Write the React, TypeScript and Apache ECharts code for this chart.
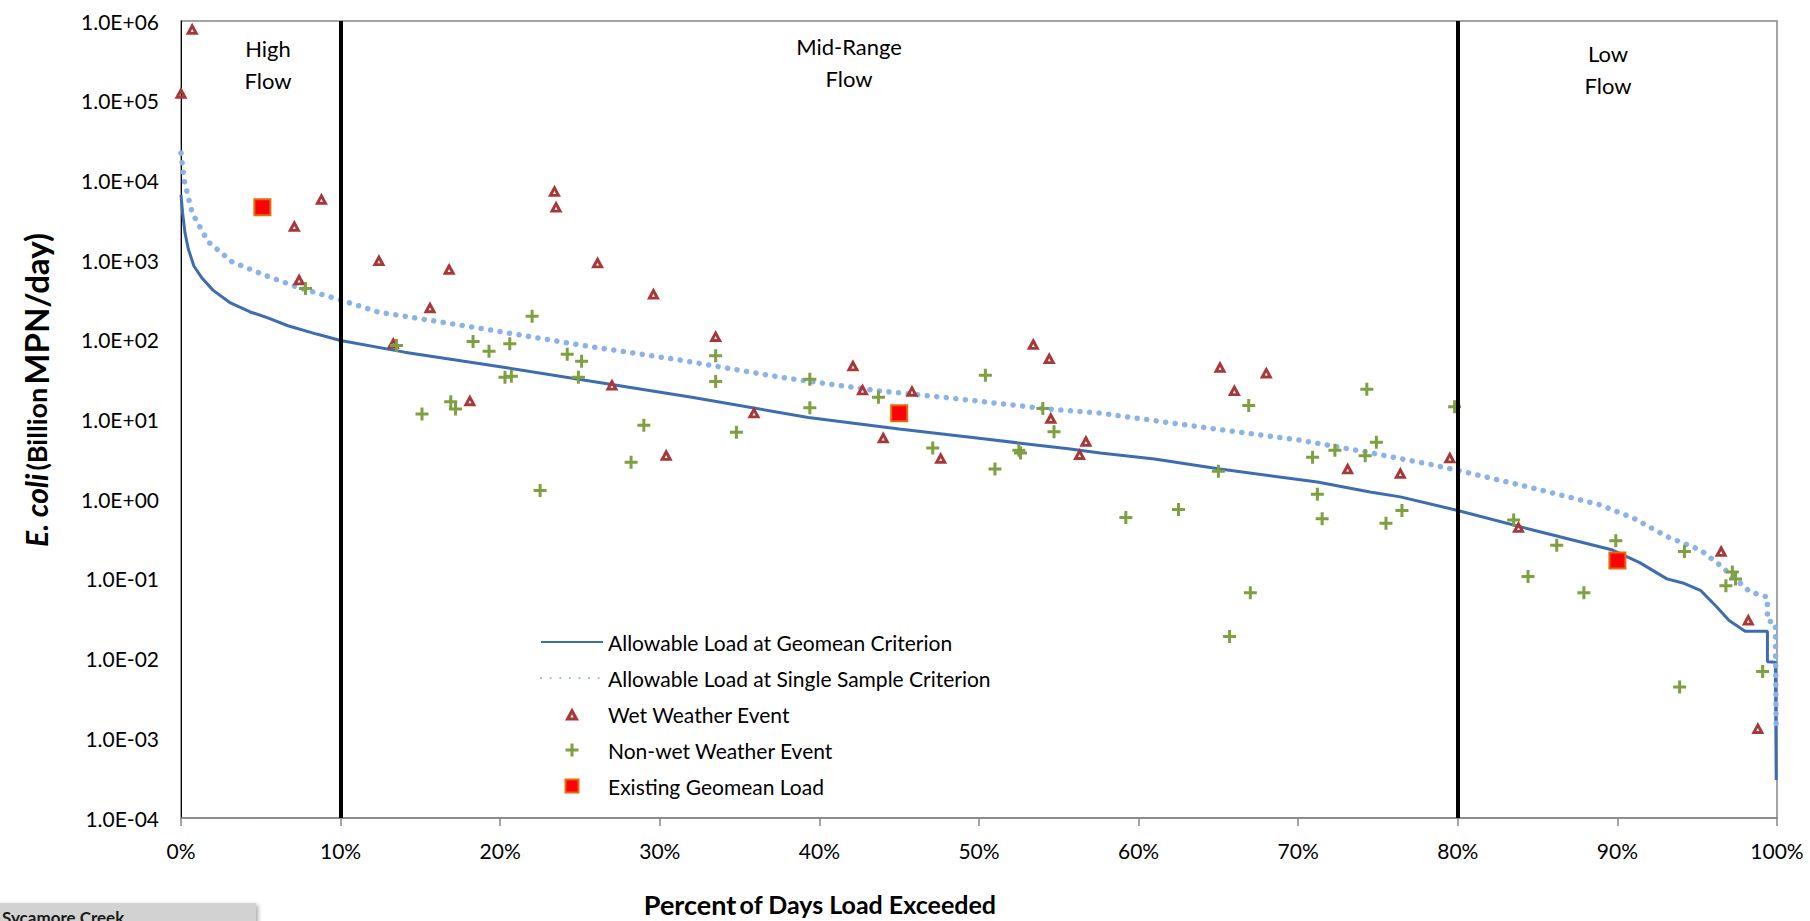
import React, { useEffect, useRef } from "react";
import * as echarts from "echarts";

// ---- Data (percent of days load exceeded, E. coli load in billion MPN/day) ----
const geomeanCurve: [number, number][] = [
  [0, 6600], [0.1, 3900], [0.25, 2200], [0.45, 1400], [0.8, 850], [1.3, 600], [2.0, 420],
  [3.1, 290], [4.3, 225], [5.4, 190], [6.7, 150], [8.5, 118], [10, 98], [14, 70], [20, 46],
  [26.3, 29], [32, 19], [39.3, 10.6], [45, 7.6], [50, 5.8], [55.6, 4.3], [57.6, 3.8], [61, 3.2],
  [65.1, 2.4], [71.2, 1.64], [74.5, 1.23], [76.4, 1.07], [80, 0.72], [84.7, 0.41], [89.7, 0.23],
  [91.4, 0.16], [93.1, 0.1], [94.1, 0.089], [95.2, 0.072], [96.2, 0.045], [97, 0.03], [98, 0.022],
  [99.4, 0.022], [99.4, 0.0091], [99.9, 0.009], [99.95, 0.0003],
];

const singleSampleCurve: [number, number][] = [
  [0, 22000], [0.2, 10000], [0.7, 3900], [1.7, 1700], [3.2, 950], [5.3, 640], [7.4, 450],
  [10, 316], [12.4, 222], [18.7, 140], [25, 86], [31.2, 56], [37.5, 34], [43.6, 23],
  [48.2, 18.6], [54.4, 13.5], [57.6, 12], [63.8, 8.1], [70.1, 5.5], [74.3, 3.9], [78.4, 2.7],
  [80, 2.3], [84.7, 1.38], [88.9, 0.85], [91, 0.58], [93.1, 0.34], [95.2, 0.23], [96.4, 0.15],
  [98.3, 0.069], [99.4, 0.059], [99.4, 0.03], [99.9, 0.028], [99.95, 0.0012],
];

const wetEvents: [number, number][] = [
  [0, 126000], [0.7, 800000], [5.0, 4400], [7.1, 2700], [7.4, 575], [8.8, 5900], [12.4, 1000],
  [13.3, 92], [15.6, 257], [16.8, 780], [18.1, 17.5], [23.4, 7400], [23.5, 4700], [26.1, 940],
  [27, 27.5], [29.6, 380], [30.4, 3.6], [33.5, 112], [35.9, 12.3], [42.1, 48], [42.7, 24],
  [44, 6], [45.8, 23], [47.6, 3.3], [53.4, 89], [54.4, 59], [54.5, 10.5], [56.3, 3.7],
  [56.7, 5.4], [65.1, 46], [66, 23.5], [68, 39], [73.1, 2.45], [76.4, 2.15], [79.5, 3.35],
  [83.8, 0.45], [96.5, 0.225], [98.2, 0.031], [98.8, 0.00135],
];

const nonWetEvents: [number, number][] = [
  [7.8, 440], [13.5, 85], [15.1, 11.7], [16.9, 16.7], [17.2, 13.5], [18.3, 95], [19.3, 72],
  [20.6, 89], [20.3, 34], [20.7, 35], [22, 198], [22.5, 1.29], [24.2, 66], [25.1, 54],
  [24.9, 34], [28.2, 2.9], [29, 8.5], [33.5, 63], [33.5, 30], [34.8, 6.9], [39.4, 32],
  [39.4, 14], [43.7, 19], [47.1, 4.4], [50.4, 36], [51, 2.4], [52.5, 4.1], [52.6, 3.8],
  [54, 13.7], [54.7, 7], [59.2, 0.59], [62.5, 0.74], [65, 2.25], [65.7, 0.019], [66.9, 15],
  [67, 0.067], [70.9, 3.35], [71.2, 1.15], [71.5, 0.57], [72.3, 4.1], [74.2, 3.5], [74.3, 24],
  [74.9, 5.2], [75.5, 0.5], [76.5, 0.72], [79.8, 14.5], [83.5, 0.55], [84.4, 0.107],
  [86.2, 0.265], [87.9, 0.067], [89.9, 0.3], [93.9, 0.0044], [94.2, 0.22], [96.8, 0.082],
  [97.2, 0.122], [97.4, 0.1], [99.1, 0.0069],
];

const existingGeomean: [number, number][] = [
  [5.1, 4600], [45, 12], [90, 0.17],
];

const flowBreaks = [10, 80];
const seriesNames = [
  "Allowable Load at Geomean Criterion",
  "Allowable Load at Single Sample Criterion",
  "Wet Weather Event",
  "Non-wet Weather Event",
  "Existing Geomean Load",
];

const FONT = "Lato, 'Open Sans', sans-serif";
const PLUS = "path://M5,0h3v5h5v3h-5v5h-3v-5h-5v-3h5z";
const TRI = "path://M6.5,0L13,12L0,12Z M6.5,6.2L5,9.2L8,9.2Z";
const SQUARE = "path://M0,0H10V10H0Z";

const fmtY = (v: number) => {
  const e = Math.round(Math.log10(v));
  const s = e < 0 ? "-" : "+";
  return `1.0E${s}${String(Math.abs(e)).padStart(2, "0")}`;
};

export default function App() {
  const ref = useRef<HTMLDivElement>(null);
  useEffect(() => {
    document.body.style.margin = "0";
    const chart = echarts.init(ref.current!, null, { renderer: "svg" });
    const option: any = {
      animation: false,
      backgroundColor: "#ffffff",
      textStyle: { fontFamily: FONT },
      grid: {
        left: 181, right: 33, top: 21, bottom: 103,
        show: true, borderColor: "#868686", borderWidth: 1.5, containLabel: false,
      },
      legend: {
        orient: "vertical",
        left: 535,
        top: 626,
        itemWidth: 62,
        itemHeight: 13,
        itemGap: 14,
        symbolKeepAspect: true,
        data: [
          { name: seriesNames[0], itemStyle: { opacity: 0 } },
          { name: seriesNames[1], itemStyle: { opacity: 0 } },
          { name: seriesNames[2] },
          { name: seriesNames[3] },
          { name: seriesNames[4] },
        ],
        textStyle: { fontFamily: FONT, fontSize: 21, color: "#000", lineHeight: 22 },
      },
      xAxis: {
        type: "value",
        min: 0,
        max: 100,
        interval: 10,
        axisLine: { show: true, lineStyle: { color: "#868686", width: 1.5 } },
        axisTick: { show: true, length: 8, lineStyle: { color: "#868686", width: 1.5 } },
        axisLabel: { margin: 22, fontSize: 21, color: "#000", fontFamily: FONT, formatter: "{value}%" },
        splitLine: { show: false },
      },
      yAxis: {
        type: "log",
        logBase: 10,
        min: 1e-4,
        max: 1e6,
        interval: 1,
        splitNumber: 10,
        axisLine: { show: true, lineStyle: { color: "#000", width: 1 } },
        axisTick: { show: false },
        axisLabel: { margin: 22, fontSize: 21, color: "#000", fontFamily: FONT, formatter: fmtY },
        splitLine: { show: false },
        minorTick: { show: false },
      },
      series: [
        {
          name: seriesNames[0],
          type: "line",
          data: geomeanCurve,
          symbol: "none",
          lineStyle: { color: "#3D6DB0", width: 3 },
          itemStyle: { color: "#3D6DB0" },
          z: 2,
        },
        {
          name: seriesNames[1],
          type: "line",
          data: singleSampleCurve,
          symbol: "none",
          lineStyle: { color: "#8CB3E6", width: 5.5, type: [0.1, 9.5], cap: "round" },
          itemStyle: { color: "#8CB3E6" },
          z: 2,
        },
        {
          name: "flowBreaks",
          type: "line",
          data: [],
          z: 3,
          markLine: {
            silent: true,
            symbol: ["none", "none"],
            label: { show: false },
            lineStyle: { color: "#000", width: 4, type: "solid" },
            data: flowBreaks.map((v) => ({ xAxis: v })),
          },
        },
        {
          name: seriesNames[2],
          type: "scatter",
          data: wetEvents,
          symbol: TRI,
          symbolSize: 13,
          symbolKeepAspect: true,
          itemStyle: { color: "#A83838", opacity: 1 },
          z: 4,
        },
        {
          name: seriesNames[3],
          type: "scatter",
          data: nonWetEvents,
          symbol: PLUS,
          symbolSize: 13,
          symbolKeepAspect: true,
          itemStyle: { color: "#7FA040", opacity: 1 },
          z: 4,
        },
        {
          name: seriesNames[4],
          type: "scatter",
          data: existingGeomean,
          symbol: SQUARE,
          symbolSize: 16,
          symbolKeepAspect: true,
          itemStyle: { color: "#FF0000", borderColor: "#E46C0A", borderWidth: 2, opacity: 1 },
          z: 5,
        },
      ],
      graphic: [
        {
          type: "text", x: 268, y: 32, z: 10,
          style: { text: "High\nFlow", fontFamily: FONT, fontSize: 22, fill: "#000", lineHeight: 32, align: "center" },
        },
        {
          type: "text", x: 849, y: 30, z: 10,
          style: { text: "Mid-Range\nFlow", fontFamily: FONT, fontSize: 22, fill: "#000", lineHeight: 32, align: "center" },
        },
        {
          type: "text", x: 1608, y: 37, z: 10,
          style: { text: "Low\nFlow", fontFamily: FONT, fontSize: 22, fill: "#000", lineHeight: 32, align: "center" },
        },
        {
          type: "text", x: 820, y: 904, z: 10,
          style: {
            text: "{a|Percent} {b|of Days Load Exceeded}",
            align: "center", verticalAlign: "middle", fontFamily: FONT,
            rich: {
              a: { fontFamily: FONT, fontSize: 27, lineHeight: 28, fontWeight: "bold", fill: "#000" },
              b: { fontFamily: FONT, fontSize: 25, lineHeight: 28, fontWeight: "bold", fill: "#000" },
            },
          },
        },
        {
          type: "text", x: 36, y: 390, rotation: Math.PI / 2, z: 10,
          style: {
            text: "{a|E. coli} {b|(Billion} {c|MPN/day)}",
            align: "center", verticalAlign: "middle", fontFamily: FONT,
            rich: {
              a: { fontFamily: FONT, fontSize: 30, fontWeight: "bold", fontStyle: "italic", fill: "#000" },
              b: { fontFamily: FONT, fontSize: 27, fontWeight: "bold", fill: "#000" },
              c: { fontFamily: FONT, fontSize: 33, fontWeight: "bold", fill: "#000" },
            },
          },
        },
        {
          type: "rect", shape: { x: -4, y: 903, width: 260, height: 30 }, z: 10,
          style: { fill: "#d2d2d2", shadowBlur: 4, shadowColor: "rgba(0,0,0,0.35)", shadowOffsetX: 2, shadowOffsetY: 2 },
        },
        {
          type: "text", x: 2, y: 909, z: 11,
          style: { text: "Sycamore Creek", fontFamily: FONT, fontSize: 17, fontWeight: "bold", fill: "#1a1a1a" },
        },
      ],
    };
    chart.setOption(option);
    return () => chart.dispose();
  }, []);
  return <div ref={ref} style={{ width: 1810, height: 921 }} />;
}
